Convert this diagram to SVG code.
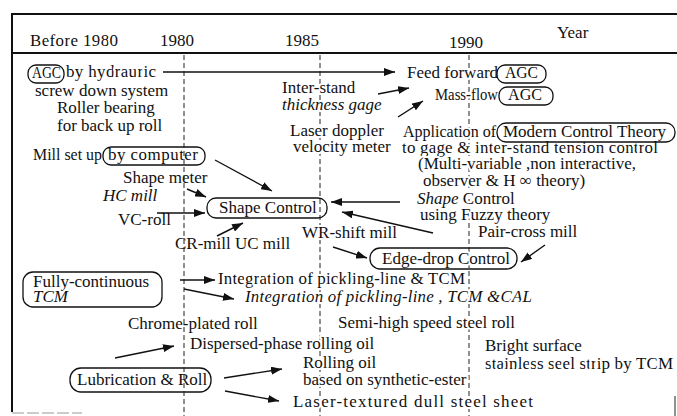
<svg xmlns="http://www.w3.org/2000/svg" width="677" height="416" viewBox="0 0 677 416">
<style>
text { font-family: "Liberation Serif", "Times New Roman", serif; font-size: 17px; fill: #111; stroke: #fff; stroke-width: 4px; stroke-linejoin: round; paint-order: stroke; }
.i { font-style: italic; }
.box { fill: none; stroke: #111; stroke-width: 1.3; }
.conn line { stroke: #111; stroke-width: 1.4; marker-end: url(#ah); }
.grid { stroke: #222; stroke-width: 1; stroke-dasharray: 5 3; }
.frame { stroke: #111; stroke-width: 2; }
</style>
<defs>
<marker id="ah" markerUnits="userSpaceOnUse" markerWidth="12" markerHeight="8" refX="11" refY="4" orient="auto">
<path d="M0,0 L11,4 L0,8 z" fill="#111"/>
</marker>
</defs>
<rect width="677" height="416" fill="#fff"/>

<g id="frame">
<line class="frame" x1="12" y1="14" x2="677" y2="14"/>
<line class="frame" x1="12" y1="53" x2="677" y2="53" stroke-width="2.5"/>
<line class="frame" x1="12" y1="13" x2="12" y2="412"/>
<line x1="12" y1="413" x2="82" y2="413" stroke="#999" stroke-width="1.2" stroke-dasharray="12 3"/>
<line x1="675" y1="396" x2="675" y2="416" stroke="#222" stroke-width="1"/>
</g>

<g id="grid">
<line class="grid" x1="320" y1="55" x2="320" y2="416"/>
<line class="grid" x1="469" y1="55" x2="469" y2="416"/>
</g>

<g id="header">
<text x="30" y="46" textLength="88">Before 1980</text>
<text x="160" y="46">1980</text>
<text x="285" y="46">1985</text>
<text x="449" y="48">1990</text>
<text x="557" y="38">Year</text>
</g>

<g id="agc-hydraulic">
<text x="32" y="78" textLength="29" lengthAdjust="spacingAndGlyphs">AGC</text>
<text x="66" y="77" textLength="90">by hydrauric</text>
<text x="35" y="96">screw down system</text>
<rect class="box" x="28" y="65" width="36" height="18" rx="8"/>
</g>
<g id="roller-bearing">
<text x="57" y="113">Roller bearing</text>
<text x="57" y="131">for back up roll</text>
</g>
<g id="feed-forward">
<text x="407" y="78">Feed forward</text>
<text x="505" y="78" textLength="33" lengthAdjust="spacingAndGlyphs">AGC</text>
<rect class="box" x="497" y="65" width="49" height="18" rx="8"/>
</g>
<g id="mass-flow">
<text x="435" y="100" textLength="63" lengthAdjust="spacingAndGlyphs">Mass-flow</text>
<text x="508" y="100" textLength="34" lengthAdjust="spacingAndGlyphs">AGC</text>
<rect class="box" x="499" y="87" width="54" height="18" rx="8"/>
</g>
<g id="interstand-gage">
<text x="282" y="93">Inter-stand</text>
<text class="i" x="282" y="110">thickness gage</text>
</g>
<g id="laser-doppler">
<text x="290" y="136">Laser doppler</text>
<text x="293" y="152">velocity meter</text>
</g>
<g id="modern-control">
<text x="403" y="137" textLength="93" lengthAdjust="spacingAndGlyphs">Application of</text>
<text x="503" y="137">Modern Control Theory</text>
<text x="402" y="153" textLength="256">to gage &amp; inter-stand tension control</text>
<text x="418" y="169">(Multi-variable ,non interactive,</text>
<text x="423" y="186">observer &amp; H ∞ theory)</text>
<rect class="box" x="497" y="123" width="178" height="19" rx="9"/>
</g>
<g id="mill-setup">
<text x="33" y="160" textLength="69" lengthAdjust="spacingAndGlyphs">Mill set up</text>
<text x="108" y="160" textLength="90">by computer</text>
<rect class="box" x="103" y="147" width="102" height="18" rx="8"/>
</g>
<g id="shape-meter"><text x="123" y="183">Shape meter</text></g>
<g id="hc-mill"><text class="i" x="103" y="201">HC mill</text></g>
<g id="vc-roll"><text x="118" y="225">VC-roll</text></g>
<g id="shape-control">
<text x="219" y="213">Shape  Control</text>
<rect class="box" x="207" y="198" width="120" height="20" rx="9"/>
</g>
<g id="cr-uc-mill"><text x="175" y="249">CR-mill  UC mill</text></g>
<g id="fuzzy">
<text x="417" y="204"><tspan class="i">Shape</tspan> Control</text>
<text x="420" y="220">using Fuzzy theory</text>
</g>
<g id="wr-shift"><text x="302" y="238">WR-shift mill</text></g>
<g id="pair-cross"><text x="478" y="237">Pair-cross mill</text></g>
<g id="edge-drop">
<text x="382" y="264">Edge-drop Control</text>
<rect class="box" x="370" y="248" width="147" height="21" rx="10"/>
</g>
<g id="fully-continuous">
<text x="33" y="287">Fully-continuous</text>
<text class="i" x="33" y="302">TCM</text>
<rect class="box" x="23" y="272" width="139" height="35" rx="10"/>
</g>
<g id="integration-1"><text x="218" y="284" textLength="247">Integration of pickling-line &amp; TCM</text></g>
<g id="integration-2"><text class="i" x="245" y="302" textLength="287">Integration of pickling-line , TCM &amp;CAL</text></g>
<g id="chrome"><text x="128" y="329">Chrome-plated roll</text></g>
<g id="semi-high"><text x="338" y="328">Semi-high speed steel roll</text></g>
<g id="dispersed"><text x="190" y="349">Dispersed-phase rolling oil</text></g>
<g id="bright-surface">
<text x="485" y="351">Bright surface</text>
<text x="485" y="369" textLength="188">stainless seel strip by TCM</text>
</g>
<g id="lubrication">
<text x="77" y="385">Lubrication &amp; Roll</text>
<rect class="box" x="70" y="368" width="141" height="24" rx="11"/>
</g>
<g id="synthetic-ester">
<text x="303" y="368">Rolling oil</text>
<text x="303" y="385">based on synthetic-ester</text>
</g>
<g id="laser-textured"><text x="293" y="407" textLength="240" lengthAdjust="spacing">Laser-textured dull steel sheet</text></g>

<g id="grid-1980">
<line class="grid" x1="184" y1="55" x2="184" y2="416"/>
</g>

<g id="connectors" class="conn">
<line x1="163" y1="72" x2="395" y2="72"/>
<line x1="378" y1="94" x2="409" y2="88"/>
<line x1="398" y1="117" x2="423" y2="101"/>
<line x1="215" y1="160" x2="272" y2="191"/>
<line x1="187" y1="189" x2="206" y2="197"/>
<line x1="157" y1="213" x2="205" y2="213"/>
<line x1="217" y1="236" x2="243" y2="223"/>
<line x1="400" y1="202" x2="331" y2="202"/>
<line x1="433" y1="233" x2="342" y2="212"/>
<line x1="333" y1="247" x2="367" y2="258"/>
<line x1="545" y1="245" x2="521" y2="262"/>
<line x1="180" y1="280" x2="215" y2="280"/>
<line x1="184" y1="289" x2="234" y2="299"/>
<line x1="115" y1="358" x2="174" y2="346"/>
<line x1="224" y1="378" x2="282" y2="369"/>
<line x1="225" y1="391" x2="279" y2="401"/>
</g>
</svg>
